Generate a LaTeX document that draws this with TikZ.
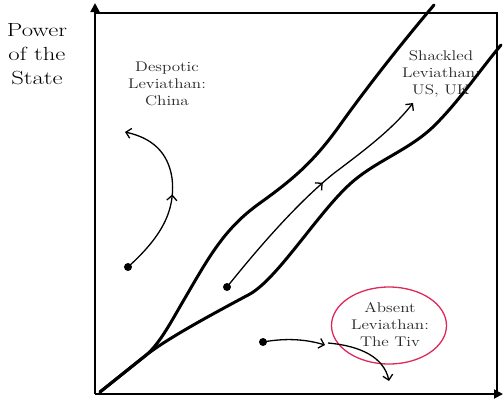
\documentclass[tikz,border=0pt]{standalone}
\usetikzlibrary{arrows.meta,decorations.markings,shapes.geometric}
\definecolor{ellred}{RGB}{222,40,90}
\begin{document}
\begin{tikzpicture}[x=1pt,y=-1pt,
  axisline/.style={line width=1.8pt},
  thickline/.style={line width=3pt,line cap=round,line join=round},
  thinarrow/.style={line width=1.3pt},
  dotnode/.style={circle,fill=black,inner sep=0pt,minimum size=8pt},
  lbl/.style={inner sep=0pt,text=black!85},
  barb/.style={-{Straight Barb[length=5pt,width=10pt,line width=1.3pt]}},
  midarrow/.style={postaction={decorate},decoration={markings,mark=at position #1 with {\arrow{Straight Barb[length=5pt,width=10pt,line width=1.3pt]}}}}
]
\newcommand\lbltext[3]{\scalebox{1.22}[1]{\fontsize{14}{17}\selectfont\begin{tabular}{@{}c@{}}#1\\#2\\#3\end{tabular}}}
\useasboundingbox (0,0) rectangle (503,400);
% axes and frame
\coordinate (O) at (95,394);
\coordinate (ytop) at (95,3);
\coordinate (xend) at (503,394);
\coordinate (tl) at (95,13);
\coordinate (tr) at (497,13);
\coordinate (br) at (497,394);
\draw[axisline,-{Triangle[length=9pt,width=9pt]}] (O) -- (ytop);
\draw[axisline,-{Triangle[length=9pt,width=9pt]}] (O) -- (xend);
\draw[axisline] (tl) -- (tr) -- (br);
% axis label
\node[inner sep=0pt] (ylabel) at (37,56) {\scalebox{1.3}[1]{\fontsize{19}{24}\selectfont\begin{tabular}{@{}c@{}}Power\\of the\\State\end{tabular}}};
% corridor curves
\coordinate (c0) at (100,392);
\coordinate (split) at (145,356);
\draw[thickline] (c0) -- (split) .. controls (160,344) and (172,320) .. (185,298)
  .. controls (210,255) and (225,228) .. (260,203)
  .. controls (295,178) and (315,160) .. (340,125)
  .. controls (365,90) and (400,45) .. (434,5);
\draw[thickline] (c0) -- (split) .. controls (165,340) and (205,318) .. (250,294)
  .. controls (278,278) and (318,213) .. (350,184)
  .. controls (375,161) and (410,150) .. (435,125)
  .. controls (460,100) and (480,70) .. (501,45);
% labels
\node[lbl] (desp) at (167,85) {\lbltext{Despotic}{Leviathan:}{China}};
\node[lbl] (shack) at (441,74) {\lbltext{Shackled}{Leviathan:}{US, UK}};
\node[ellipse,draw=ellred,line width=1.3pt,minimum width=115pt,minimum height=77pt,inner sep=0pt] (absent) at (389,325.5) {};
\node[lbl] (absenttext) at (390,326) {\lbltext{Absent}{Leviathan:}{The Tiv}};
% dots
\node[dotnode] (d1) at (128,267) {};
\node[dotnode] (d2) at (227,287) {};
\node[dotnode] (d3) at (263,342) {};
\coordinate (e1) at (125,132);
\coordinate (e2) at (413,103);
\coordinate (e3) at (325,345);
\coordinate (s4) at (328,343);
\coordinate (e4) at (389,381);
% arrows
\draw[thinarrow,barb,midarrow=0.5] (d1.center) .. controls (160,238) and (176,212) .. (172,178) .. controls (168,152) and (152,138) .. (e1);
\draw[thinarrow,barb,midarrow=0.54] (d2.center) .. controls (255,252) and (295,205) .. (333,174) .. controls (362,152) and (392,130) .. (e2);
\draw[thinarrow,barb] (d3.center) .. controls (285,338) and (305,339) .. (e3);
\draw[thinarrow,barb] (s4) .. controls (362,346) and (384,358) .. (e4);
\end{tikzpicture}
\end{document}
